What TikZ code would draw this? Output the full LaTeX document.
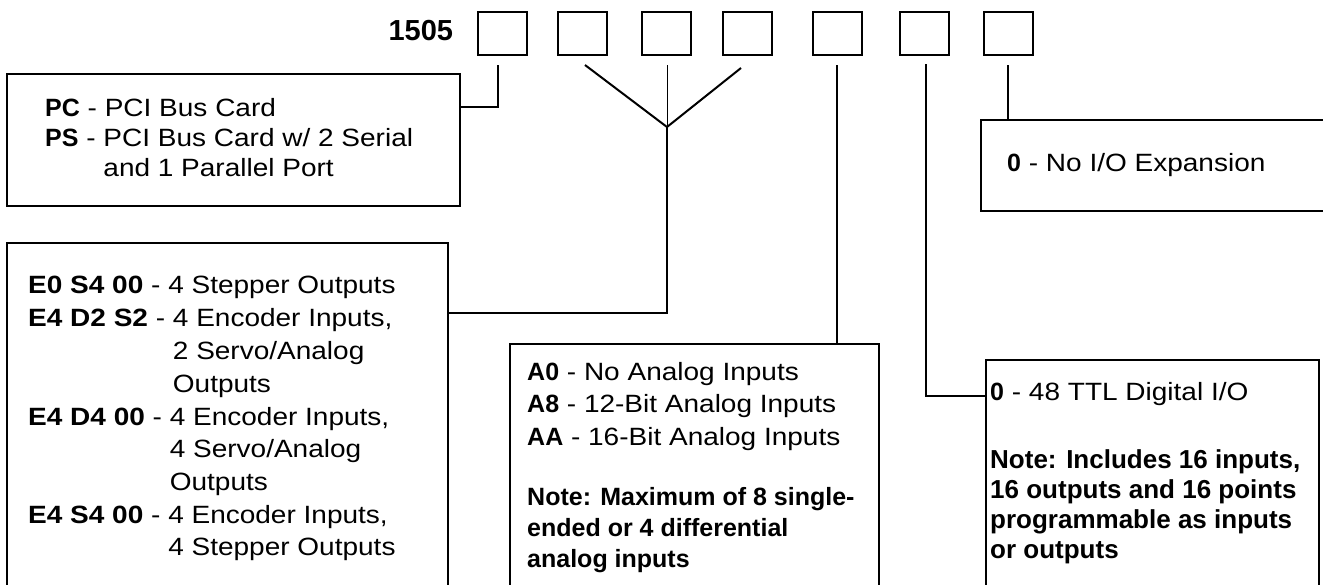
\documentclass[tikz,border=0pt]{standalone}
\usepackage{fontspec}
\setmainfont{Liberation Sans}
\newfontfamily\litefont{Liberation Sans}[FakeStretch=1.12]
\newfontfamily\wideboldfont{Liberation Sans}[FakeStretch=1.12]
\newcommand\keyb[1]{{\normalfont\bfseries #1}}
\newcommand\keyw[1]{{\wideboldfont\bfseries #1}}
\begin{document}
\begin{tikzpicture}[x=1pt,y=-1pt,
  conn/.style={line width=2pt},
  thinconn/.style={line width=1pt},
  sqbox/.style={draw,line width=2pt,minimum width=49pt,minimum height=43pt,inner sep=0pt,outer sep=0pt},
  infobox/.style={draw,line width=2pt,inner sep=0pt,outer sep=0pt},
  txt/.style={anchor=base west,inner sep=0pt,font=\fontsize{25}{30}\selectfont\litefont},
  txtb/.style={anchor=base west,inner sep=0pt,font=\fontsize{26}{30}\selectfont\litefont},
]
\clip (0,0) rectangle (1323,584);
\fill[white] (0,0) rectangle (1323,584);

% title and code squares
\node[anchor=base east,inner sep=0pt,font=\fontsize{29}{32}\selectfont\bfseries] (title) at (453.3,40.7) {1505};
\node[sqbox] (sq1) at (502.5,33.5) {};
\node[sqbox] (sq2) at (582.5,33.5) {};
\node[sqbox] (sq3) at (666.5,33.5) {};
\node[sqbox] (sq4) at (747.5,33.5) {};
\node[sqbox] (sq5) at (837.5,33.5) {};
\node[sqbox] (sq6) at (924.5,33.5) {};
\node[sqbox] (sq7) at (1008.5,33.5) {};

% boxes
\node[infobox,minimum width=453pt,minimum height=132pt] (pcbox) at (233.5,140) {};
\node[infobox,minimum width=441pt,minimum height=360pt] (ebox) at (227.5,423) {};
\node[infobox,minimum width=369pt,minimum height=260pt] (abox) at (694.5,474) {};
\node[infobox,minimum width=333pt,minimum height=245pt] (dbox) at (1152.5,482) {};
\node[infobox,minimum width=349pt,minimum height=91pt] (xbox) at (1155.5,165.5) {};

% connector coordinates
\coordinate (s1) at (497.7,65);
\coordinate (j1) at (497.7,106.7);
\coordinate (s2) at (585,65);
\coordinate (s3) at (667,65);
\coordinate (s4) at (741,68);
\coordinate (yj) at (667,127);
\coordinate (j2) at (667,313);
\coordinate (s5) at (836.7,65);
\coordinate (s6) at (926,64);
\coordinate (j6) at (926,395.5);
\coordinate (s7) at (1008.3,65);

% connectors
\draw[conn] (s1) |- (pcbox.east |- j1);
\draw[conn,line join=miter] (s2) -- (yj) -- (s4);
\draw[thinconn] (s3) -- (yj);
\draw[conn] (yj) |- (ebox.east |- j2);
\draw[conn] (s5) -- (s5 |- abox.north);
\draw[conn] (s6) |- (dbox.west |- j6);
\draw[conn] (s7) -- (s7 |- xbox.north);

% PC box text
\node[txt] (pc1) at (45,116) {\keyb{PC} - PCI Bus Card};
\node[txt] (pc2) at (45,146) {\keyb{PS} - PCI Bus Card w/ 2 Serial};
\node[txt] (pc3) at (45,176) {\hphantom{\keyb{PS} - }and 1 Parallel Port};

% encoder box text
\node[txt] (e1) at (28,293) {\keyw{E0 S4 00} - 4 Stepper Outputs};
\node[txt] (e2) at (28,326) {\keyw{E4 D2 S2} - 4 Encoder Inputs,};
\node[txt] (e3) at (28,359) {\hphantom{\keyw{E4 D2 S2} - }2 Servo/Analog};
\node[txt] (e4) at (28,392) {\hphantom{\keyw{E4 D2 S2} - }Outputs};
\node[txt] (e5) at (28,425) {\keyw{E4 D4 00} - 4 Encoder Inputs,};
\node[txt] (e6) at (28,457) {\hphantom{\keyw{E4 D4 00} - }4 Servo/Analog};
\node[txt] (e7) at (28,490) {\hphantom{\keyw{E4 D4 00} - }Outputs};
\node[txt] (e8) at (28,523) {\keyw{E4 S4 00} - 4 Encoder Inputs,};
\node[txt] (e9) at (28,555) {\hphantom{\keyw{E4 S4 00} - }4 Stepper Outputs};

% analog box text
\node[txt] (a1) at (527,380) {\keyb{A0} - No Analog Inputs};
\node[txt] (a2) at (527,412) {\keyb{A8} - 12-Bit Analog Inputs};
\node[txt] (a3) at (527,445) {\keyb{AA} - 16-Bit Analog Inputs};
\node[txt] (a4) at (527,505) {\keyb{Note: Maximum of 8 single-}};
\node[txt] (a5) at (527,536) {\keyb{ended or 4 differential}};
\node[txt] (a6) at (527,567) {\keyb{analog inputs}};

% digital box text
\node[txt] (d1) at (990,400) {\keyb{0} - 48 TTL Digital I/O};
\node[txtb] (d2) at (990,468) {\keyb{Note: Includes 16 inputs,}};
\node[txtb] (d3) at (990,498) {\keyb{16 outputs and 16 points}};
\node[txtb] (d4) at (990,528) {\keyb{programmable as inputs}};
\node[txtb] (d5) at (990,558) {\keyb{or outputs}};

% expansion box text
\node[txt] (x1) at (1007,171.5) {\keyb{0} - No I/O Expansion};
\end{tikzpicture}
\end{document}
